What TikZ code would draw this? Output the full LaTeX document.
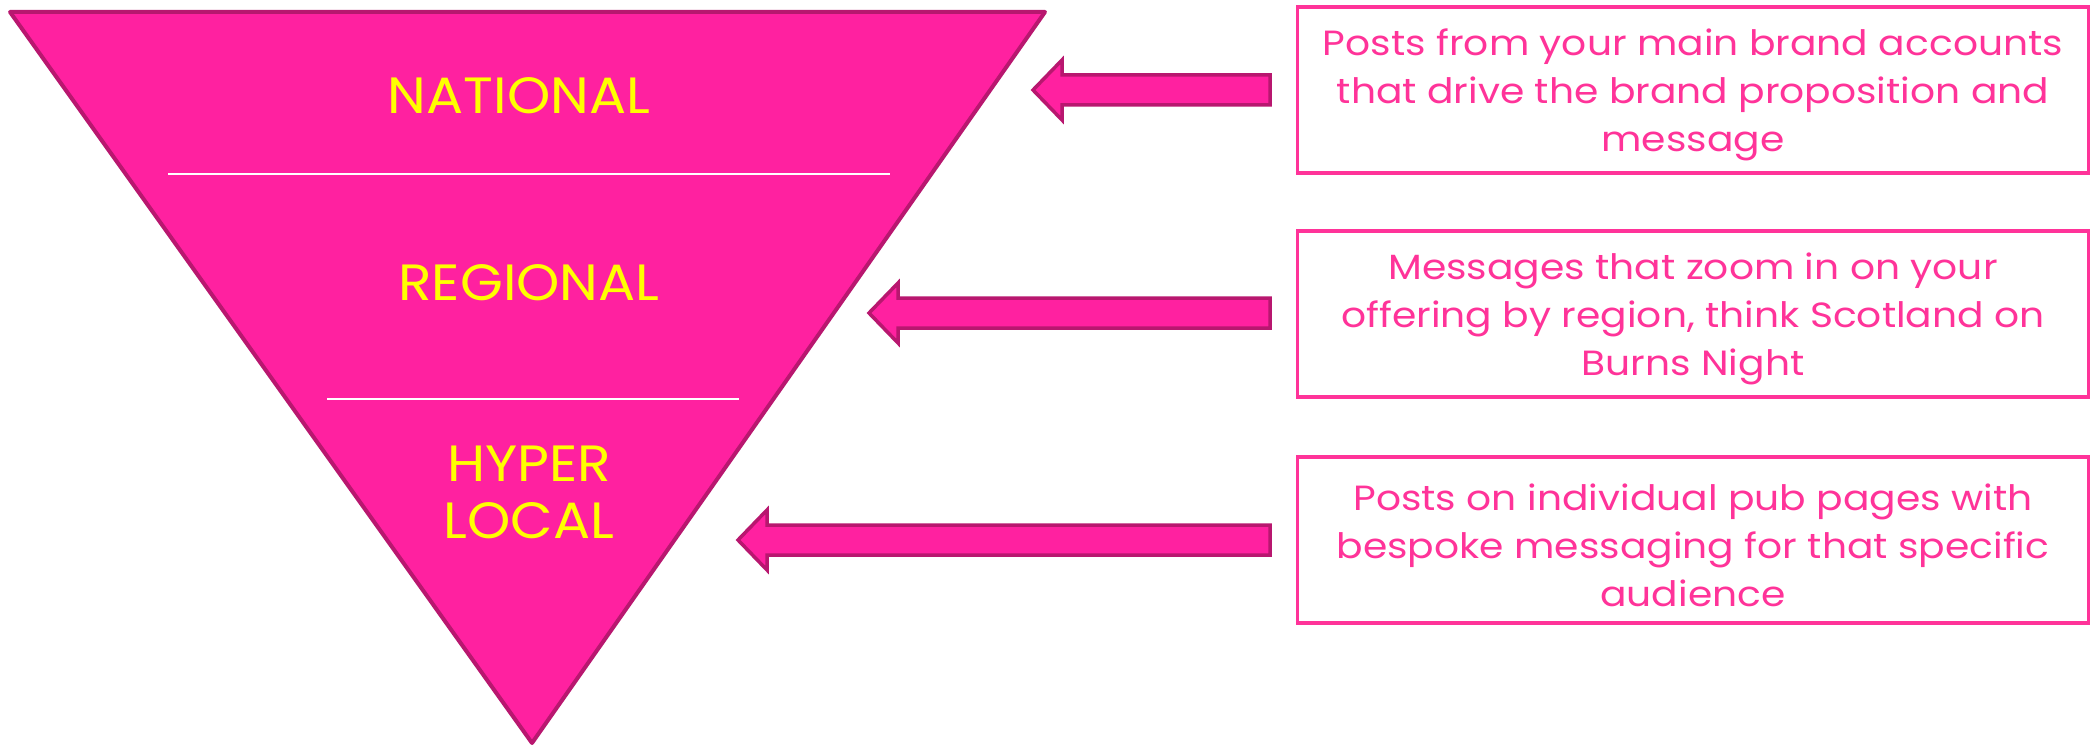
\documentclass[tikz,border=0pt]{standalone}
\usepackage{fontspec}
\setmainfont{Poppins}
\newfontfamily\lblfont[FakeStretch=1.08]{Poppins}
\newfontfamily\boxfont[FakeStretch=1.12]{Poppins}
\definecolor{fillpink}{HTML}{FF21A0}
\definecolor{edgepink}{HTML}{B8176F}
\definecolor{textpink}{HTML}{FF3399}
\definecolor{lblyellow}{HTML}{FFFF00}
\begin{document}
\begin{tikzpicture}[x=1pt,y=-1pt,
  level/.style={text=lblyellow,font=\lblfont\fontsize{51}{57}\selectfont,align=center,inner sep=0pt},
  descbox/.style={draw=textpink,line width=3.5pt,fill=white,minimum width=791pt,minimum height=166pt,inner sep=0pt},
  desctext/.style={text=textpink,font=\boxfont\fontsize{35}{48}\selectfont,align=center,inner sep=0pt},
  blockarrow/.style={fill=fillpink,draw=edgepink,line width=3.5pt,line join=miter}]
\useasboundingbox (0,0) rectangle (2096,746);
% funnel
\coordinate (tl) at (10,12);
\coordinate (tr) at (1045,12);
\coordinate (ap) at (532,743);
\filldraw[fill=fillpink,draw=edgepink,line width=4pt,line join=round] (tl) -- (tr) -- (ap) -- cycle;
\coordinate (l1a) at (168,174); \coordinate (l1b) at (890,174);
\coordinate (l2a) at (327,399); \coordinate (l2b) at (739,399);
\draw[white,line width=1.8pt] (l1a) -- (l1b);
\draw[white,line width=1.8pt] (l2a) -- (l2b);
\node[level] (nat) at (519,96) {NATIONAL};
\node[level] (reg) at (529,283) {REGIONAL};
\node[level] (hyp) at (529,492) {HYPER\\LOCAL};
% boxes
\node[descbox] (b1) at (1693,90) {};
\node[descbox] (b2) at (1693,314) {};
\node[descbox] (b3) at (1693,540) {};
\node[desctext] (t1) at ([yshift=-5pt]b1.center) {Posts from your main brand accounts\\that drive the brand proposition and\\message};
\node[desctext] (t2) at ([yshift=-5pt]b2.center) {Messages that zoom in on your\\offering by region, think Scotland on\\Burns Night};
\node[desctext] (t3) at ([yshift=-5pt]b3.center) {Posts on individual pub pages with\\bespoke messaging for that specific\\audience};
% block arrows
\foreach \tip/\yy in {1033/90,869/313,738/540}{
  \draw[blockarrow] (1270,\yy-15) -- (\tip+29,\yy-15) -- (\tip+29,\yy-30) -- (\tip,\yy)
    -- (\tip+29,\yy+30) -- (\tip+29,\yy+15) -- (1270,\yy+15) -- cycle;
}
\end{tikzpicture}
\end{document}
